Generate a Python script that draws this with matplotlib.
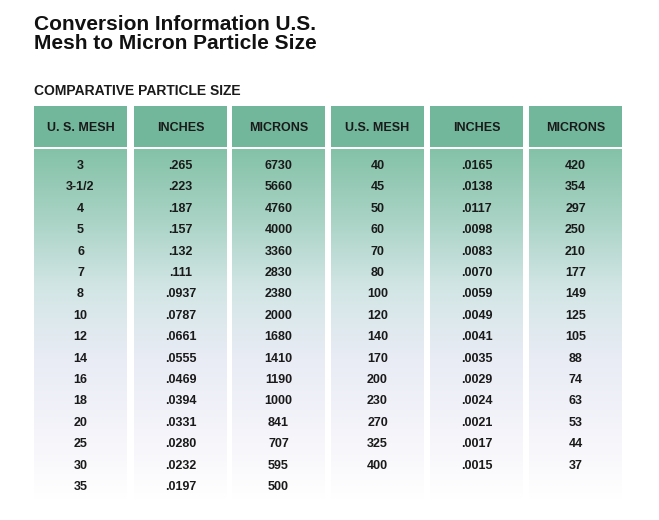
import numpy as np
import matplotlib.pyplot as plt
from matplotlib.colors import LinearSegmentedColormap

plt.rcParams['font.family'] = ['Liberation Sans', 'DejaVu Sans']

headers = ["U. S. MESH", "INCHES", "MICRONS", "U.S. MESH", "INCHES", "MICRONS"]
mesh_a = ["3", "3-1/2", "4", "5", "6", "7", "8", "10", "12", "14", "16", "18", "20", "25", "30", "35"]
inches_a = [".265", ".223", ".187", ".157", ".132", ".111", ".0937", ".0787", ".0661", ".0555",
            ".0469", ".0394", ".0331", ".0280", ".0232", ".0197"]
microns_a = ["6730", "5660", "4760", "4000", "3360", "2830", "2380", "2000", "1680", "1410",
             "1190", "1000", "841", "707", "595", "500"]
mesh_b = ["40", "45", "50", "60", "70", "80", "100", "120", "140", "170", "200", "230", "270", "325", "400"]
inches_b = [".0165", ".0138", ".0117", ".0098", ".0083", ".0070", ".0059", ".0049", ".0041", ".0035",
            ".0029", ".0024", ".0021", ".0017", ".0015"]
microns_b = ["420", "354", "297", "250", "210", "177", "149", "125", "105", "88", "74", "63", "53", "44", "37"]
columns = [mesh_a, inches_a, microns_a, mesh_b, inches_b, microns_b]

col_left = [34, 134, 232, 331, 430, 529]
col_width = 93

fig = plt.figure(figsize=(6.59, 5.2), dpi=100)
ax = fig.add_axes([0, 0, 1, 1])
ax.set_xlim(0, 659)
ax.set_ylim(520, 0)
ax.axis("off")

body_cmap = LinearSegmentedColormap.from_list(
    "body", ["#84c2a8", "#a9d3c5", "#d3e6e6", "#e9ecf5", "#f4f4fa", "#ffffff"])
grad = np.linspace(0, 1, 256).reshape(-1, 1)

for i, x0 in enumerate(col_left):
    # header cell
    ax.add_patch(plt.Rectangle((x0, 106), col_width, 41, color="#72b79b", lw=0))
    ax.text(x0 + col_width / 2, 128, headers[i], ha="center", va="center",
            fontsize=9, fontweight="bold", color="#1a1a1a")
    # body gradient
    ax.imshow(grad, cmap=body_cmap, aspect="auto",
              extent=(x0, x0 + col_width, 500, 149), zorder=0)
    for r, val in enumerate(columns[i]):
        ax.text(x0 + col_width / 2, 166 + r * 21.4, val, ha="center", va="center",
                fontsize=9, fontweight="bold", color="#1a1a1a")

ax.text(34, 34, "Conversion Information U.S.\nMesh to Micron Particle Size", ha="left", va="center",
        fontsize=15, fontweight="bold", color="#111111", linespacing=0.95)
ax.text(34, 91, "COMPARATIVE PARTICLE SIZE", ha="left", va="center",
        fontsize=10, fontweight="bold", color="#1a1a1a")

fig.savefig("out.png", dpi=100)
